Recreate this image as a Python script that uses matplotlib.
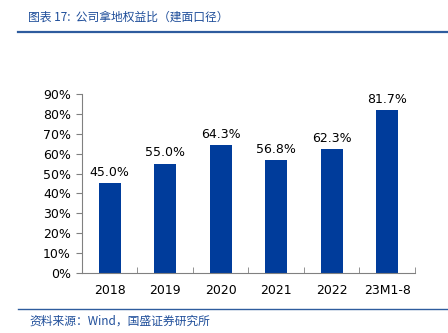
import matplotlib.pyplot as plt
from matplotlib.lines import Line2D

plt.rcParams['font.family'] = ['DejaVu Sans', 'Noto Sans CJK SC']

cats = ['2018', '2019', '2020', '2021', '2022', '23M1-8']
vals = [45.0, 55.0, 64.3, 56.8, 62.3, 81.7]
yticks = [0, 10, 20, 30, 40, 50, 60, 70, 80, 90]

barColor = '#003C9B'
textBlue = '#1F4E9A'

fig = plt.figure(figsize=(4.48, 3.33), dpi=100)
ax = fig.add_axes([0.183, 0.180, 0.743, 0.538])

x = list(range(len(cats)))
ax.bar(x, vals, width=0.4, color=barColor)
for i in x:
    ax.text(i, vals[i] + 2.2, '%.1f%%' % vals[i], ha='center', va='bottom',
            fontsize=9, color='black', clip_on=False)

ax.set_xlim(-0.5, len(cats) - 0.5)
ax.set_ylim(0, 90)
ax.set_yticks(yticks)
ax.set_yticklabels(['%d%%' % t for t in yticks], fontsize=9)
ax.set_xticks(x)
ax.set_xticklabels(cats, fontsize=9)
ax.tick_params(axis='x', length=0, pad=8)
ax.tick_params(axis='y', length=4, direction='out', color='#808080', pad=4)
ax.set_xticks([i + 0.5 for i in range(-1, len(cats))], minor=True)
ax.tick_params(axis='x', which='minor', length=4, direction='in', color='#808080')

ax.spines['top'].set_visible(False)
ax.spines['right'].set_visible(False)
for s in ['left', 'bottom']:
    ax.spines[s].set_color('#808080')
    ax.spines[s].set_linewidth(0.8)

# header and footer
fig.text(0.062, 0.948, '图表 17:  公司拿地权益比（建面口径）', fontsize=8.5, color=textBlue,
         style='italic', family=['Noto Sans CJK SC', 'DejaVu Sans'], va='center')
fig.add_artist(Line2D([0.04, 1.0], [0.903, 0.903], color='#2E5C9E', lw=1.6))
fig.add_artist(Line2D([0.04, 1.0], [0.072, 0.072], color='#2E5C9E', lw=1.0))
fig.text(0.065, 0.036, '资料来源：Wind，国盛证券研究所', fontsize=8.5, color=textBlue,
         style='italic', family=['Noto Sans CJK SC', 'DejaVu Sans'], va='center')

fig.savefig('out.png', dpi=100)
